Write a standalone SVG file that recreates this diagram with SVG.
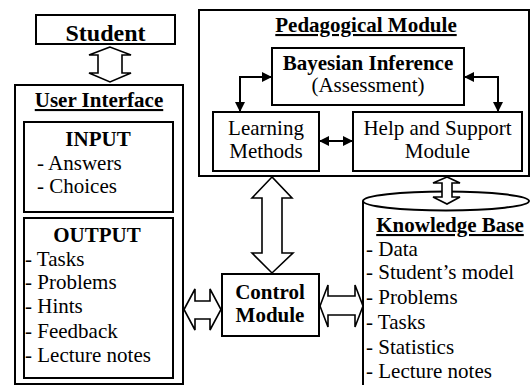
<svg xmlns="http://www.w3.org/2000/svg" width="531" height="385" viewBox="0 0 531 385" font-family="'Liberation Serif', 'Times New Roman', Times, 'DejaVu Serif', serif">
  <style>
    .box { fill: #fff; stroke: #000; stroke-width: 2; }
    .fat { fill: #fff; stroke: #000; stroke-width: 1.6; stroke-linejoin: miter; }
    .link { fill: none; stroke: #000; stroke-width: 2; }
    text { font-family: "Liberation Serif", "Times New Roman", Times, "DejaVu Serif", serif; font-size: 21px; fill: #000; }
    .b { font-weight: bold; }
    .u { text-decoration: underline; }
    .c { text-anchor: middle; }
    .big { font-size: 24px; }
  </style>
  <defs>
    <marker id="head" viewBox="0 0 10 10" refX="10" refY="5" markerWidth="10" markerHeight="10" markerUnits="userSpaceOnUse" orient="auto-start-reverse">
      <path d="M0,0 L10,5 L0,10 Z" fill="#000"/>
    </marker>
  </defs>

  <!-- Student -->
  <g id="student">
    <rect class="box" x="36" y="15" width="139" height="29"/>
    <text class="b c big" x="105.5" y="41">Student</text>
  </g>

  <!-- User Interface with input and output panels -->
  <g id="user-interface">
    <rect class="box" x="15" y="85" width="168" height="299"/>
    <text class="b u c" x="99" y="107">User Interface</text>
  </g>
  <g id="input">
    <rect class="box" x="24" y="122" width="149" height="90"/>
    <text class="b c" x="98" y="146">INPUT</text>
    <text x="37" y="170">- Answers</text>
    <text x="37" y="193">- Choices</text>
  </g>
  <g id="output">
    <rect class="box" x="24" y="218" width="149" height="160"/>
    <text class="b c" x="97" y="242">OUTPUT</text>
    <text x="25" y="266">- Tasks</text>
    <text x="25" y="289">- Problems</text>
    <text x="25" y="313">- Hints</text>
    <text x="25" y="338">- Feedback</text>
    <text x="25" y="362">- Lecture notes</text>
  </g>

  <!-- Pedagogical module and its parts -->
  <g id="pedagogical-module">
    <rect class="box" x="199" y="10" width="330" height="166"/>
    <text class="b u c" x="366" y="32">Pedagogical Module</text>
  </g>
  <g id="bayesian-inference">
    <rect class="box" x="272" y="48" width="192" height="57"/>
    <text class="b c" x="368" y="70">Bayesian Inference</text>
    <text class="c" x="368" y="92">(Assessment)</text>
  </g>
  <g id="learning-methods">
    <rect class="box" x="213" y="112" width="106" height="59"/>
    <text class="c" x="266" y="135">Learning</text>
    <text class="c" x="266" y="158">Methods</text>
  </g>
  <g id="help-support">
    <rect class="box" x="353" y="112" width="169" height="59"/>
    <text class="c" x="437.5" y="135">Help and Support</text>
    <text class="c" x="437.5" y="158">Module</text>
  </g>

  <!-- Control module -->
  <g id="control-module">
    <rect class="box" x="222" y="274" width="97" height="62"/>
    <text class="b c" x="270" y="299">Control</text>
    <text class="b c" x="270" y="322">Module</text>
  </g>

  <!-- Knowledge base drum -->
  <g id="knowledge-base">
    <ellipse class="box" cx="446" cy="201" rx="83" ry="9.5"/>
    <line class="link" x1="363" y1="201" x2="363" y2="385"/>
    <text class="b u c" x="450" y="232">Knowledge Base</text>
    <text x="366" y="256">- Data</text>
    <text x="366" y="279">- Student’s model</text>
    <text x="366" y="304">- Problems</text>
    <text x="366" y="329">- Tasks</text>
    <text x="366" y="354">- Statistics</text>
    <text x="366" y="378">- Lecture notes</text>
  </g>

  <!-- Connectors -->
  <g id="connectors">
    <path class="link" d="M272,77 H240 V112" marker-start="url(#head)" marker-end="url(#head)"/>
    <path class="link" d="M464,77 H498 V112" marker-start="url(#head)" marker-end="url(#head)"/>
    <path class="link" d="M319,141 H353" marker-start="url(#head)" marker-end="url(#head)"/>

    <polygon class="fat" points="110,47 89,55 98,55 98,73 89,73 110,82 131,73 122,73 122,55 131,55"/>
    <polygon class="fat" points="272,177 252,198 262,198 262,253 252,253 272,273 293,253 282,253 282,198 292,198"/>
    <polygon class="fat" points="184,309.5 195,289 195,301 210,301 210,289 221,309.5 210,330 210,319 195,319 195,330"/>
    <polygon class="fat" points="320,306 328,285 328,296 355,296 355,285 363,306 355,327 355,315 328,315 328,327"/>
    <polygon class="fat" points="447,177 433,183 442,183 442,197 433,197 447,204 460,197 452,197 452,183 460,183"/>
  </g>
</svg>
